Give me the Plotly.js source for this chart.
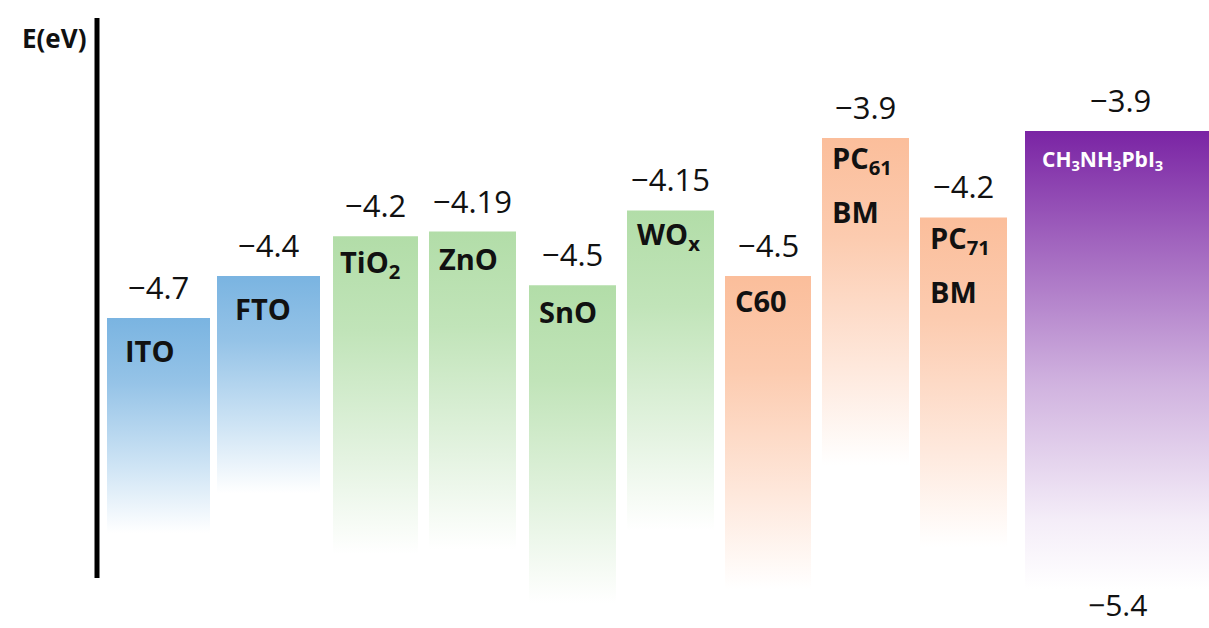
<!DOCTYPE html>
<html>
<head>
<meta charset="utf-8">
<script src="https://cdn.plot.ly/plotly-3.0.1.min.js"></script>
<style>html,body{margin:0;padding:0;background:#fff;}#chart{width:1209px;height:628px;}</style>
</head>
<body>
<div id="chart"></div>
<script>
// ---- data ----
const materials = ["ITO", "FTO", "TiO<sub>2</sub>", "ZnO", "SnO", "WO<sub>x</sub>", "C60", "PC<sub>61</sub><br>BM", "PC<sub>71</sub><br>BM", "CH<sub>3</sub>NH<sub>3</sub>PbI<sub>3</sub>"];
const levelLabels = ["−4.7", "−4.4", "−4.2", "−4.19", "−4.5", "−4.15", "−4.5", "−3.9", "−4.2", "−3.9"];
// drawn (schematic) level of each bar top, eV
const levelTop = [-4.70, -4.52, -4.35, -4.33, -4.56, -4.24, -4.52, -3.93, -4.27, -3.90];
// where each bar's gradient fades out, eV
const levelFade = [-5.62, -5.45, -5.71, -5.69, -5.92, -5.61, -5.86, -5.33, -5.68, -5.86];
const valenceLabel = "−5.4";
const groups = ["tco", "tco", "oxide", "oxide", "oxide", "oxide", "fullerene", "fullerene", "fullerene", "perovskite"];

// ---- layout / style constants ----
const barLeft  = [107, 217, 333, 429, 529, 627, 725, 822, 920, 1025];
const barWidth = [103, 103,  85,  87,  87,  87,  86,  87,  87,  190];
const labelDx  = [16, 16, 5, 8, 8, 8, 8, 8, 8, 15];
const labelDy  = [33, 33, 27, 27, 26, 25, 25, 21, 22, 29];
const groupColor = {
  tco: [122, 180, 225],
  oxide: [178, 221, 168],
  fullerene: [251, 190, 155],
  perovskite: [122, 36, 164]
};
const pxPerEv = 233.75;
const yTop = -3.3396;
const yBottom = yTop - 628 / pxPerEv;

function mix(c, t) { // t=1 full colour, t=0 white
  return `rgb(${Math.round(255 - (255 - c[0]) * t)},${Math.round(255 - (255 - c[1]) * t)},${Math.round(255 - (255 - c[2]) * t)})`;
}

const traces = materials.map((m, i) => {
  const l = barLeft[i], r = barLeft[i] + barWidth[i];
  const t = levelTop[i], b = levelFade[i];
  const c = groupColor[groups[i]];
  const cs = groups[i] === "perovskite"
    ? [[0, mix(c, 0)], [0.15, mix(c, 0.08)], [0.45, mix(c, 0.35)], [0.75, mix(c, 0.7)], [1, mix(c, 1)]]
    : [[0, mix(c, 0)], [0.3, mix(c, 0.35)], [0.7, mix(c, 0.8)], [1, mix(c, 1)]];
  return {
    type: "scatter", mode: "lines",
    x: [l, r, r, l, l], y: [b, b, t, t, b],
    fill: "toself", line: { width: 0, color: "rgba(0,0,0,0)" },
    fillgradient: { type: "vertical", start: b, stop: t, colorscale: cs },
    hoverinfo: "skip", showlegend: false
  };
});

const annotations = [];
materials.forEach((m, i) => {
  const cx = barLeft[i] + barWidth[i] / 2;
  annotations.push({
    x: cx, y: levelTop[i], xref: "x", yref: "y", text: levelLabels[i],
    showarrow: false, xanchor: "center", yanchor: "bottom", yshift: 8,
    font: { family: "Open Sans", size: 31, color: "#111" }
  });
  const lines = m.split("<br>");
  const isPv = groups[i] === "perovskite";
  lines.forEach((ln, k) => {
    annotations.push({
      x: barLeft[i] + labelDx[i], y: levelTop[i], xref: "x", yref: "y",
      text: "<b>" + ln + "</b>", showarrow: false, xanchor: "left", yanchor: "middle",
      yshift: -(labelDy[i] + k * 52),
      font: { family: "Open Sans", size: isPv ? 21 : 29, color: isPv ? "#ffffff" : "#111" }
    });
  });
});
// valence band value under the perovskite
annotations.push({
  x: barLeft[9] + 92, y: levelFade[9], xref: "x", yref: "y", text: valenceLabel,
  showarrow: false, xanchor: "center", yanchor: "middle", yshift: -15,
  font: { family: "Open Sans", size: 30, color: "#111" }
});
// axis title
annotations.push({
  x: 88, y: 1 - 38 / 628, xref: "x", yref: "paper", text: "<b>E(eV)</b>",
  showarrow: false, xanchor: "right", yanchor: "middle",
  font: { family: "Open Sans", size: 26, color: "#111" }
});

const layout = {
  width: 1209, height: 628,
  margin: { l: 0, r: 0, t: 0, b: 0 },
  paper_bgcolor: "#fff", plot_bgcolor: "#fff",
  xaxis: { range: [0, 1209], visible: false, fixedrange: true },
  yaxis: { range: [yBottom, yTop], visible: false, fixedrange: true },
  shapes: [{
    type: "line", xref: "x", yref: "paper", x0: 97, x1: 97,
    y0: 1 - 578 / 628, y1: 1 - 18 / 628,
    line: { color: "#000", width: 5 }
  }],
  annotations: annotations
};

Plotly.newPlot("chart", traces, layout, { displayModeBar: false, staticPlot: true });
</script>
</body>
</html>
